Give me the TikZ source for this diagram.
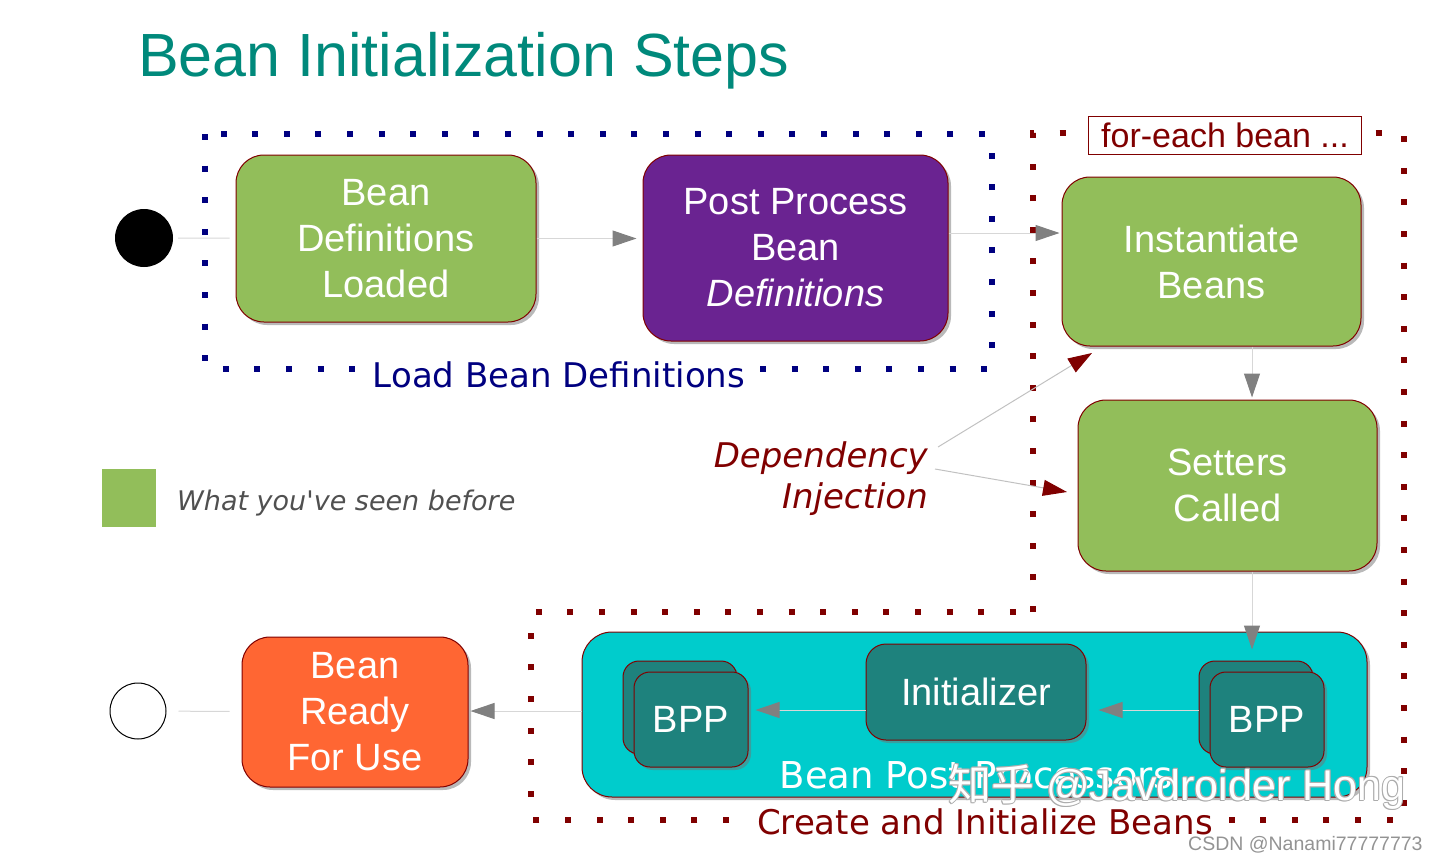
\documentclass[tikz,border=0pt]{standalone}
\usepackage{fontspec}
\setmainfont{Liberation Sans}
\newfontfamily\vfont{DejaVu Sans}
\newfontfamily\cjkf{Noto Sans CJK SC}
\usetikzlibrary{shadows,arrows.meta}
\definecolor{grn}{RGB}{146,190,90}
\definecolor{purp}{RGB}{106,35,145}
\definecolor{navyc}{RGB}{0,0,128}
\definecolor{dred}{RGB}{128,0,0}
\definecolor{titlec}{RGB}{0,137,123}
\definecolor{cyanb}{RGB}{0,204,204}
\definecolor{tealbox}{RGB}{30,130,125}
\definecolor{orng}{RGB}{255,102,51}
\definecolor{tipg}{RGB}{128,128,128}
\definecolor{lineg}{RGB}{215,215,215}
\definecolor{legtxt}{RGB}{80,80,80}
\tikzset{
  x=1pt, y=-1pt,
  box/.style={draw=dred, line width=1pt, rounded corners=28pt, text=white, align=center,
    font=\fontsize{38}{46}\selectfont, inner sep=0pt,
    drop shadow={shadow xshift=3pt, shadow yshift=-3pt, opacity=0.5, fill=black!55}},
  smallbox/.style={box, rounded corners=16pt},
  conn/.style={draw=lineg, line width=1pt, -{Triangle[length=24pt,width=16pt,color=tipg]}},
  plainconn/.style={draw=lineg, line width=1pt},
  diconn/.style={draw=lineg!90!black, line width=1pt, -{Triangle[length=24pt,width=16pt,color=dred]}},
  bluedots/.style={draw=navyc, line width=6pt, dash pattern=on 6pt off 25.6pt},
  reddots/.style={draw=dred, line width=6pt, dash pattern=on 6pt off 25.6pt},
  grouplabel/.style={font=\vfont\fontsize{34}{40}\selectfont, fill=white, inner xsep=10pt, inner ysep=2pt},
  wm/.style={font=\fontsize{43}{48}\selectfont, anchor=base west, inner sep=0pt},
}
\begin{document}
\begin{tikzpicture}
\useasboundingbox (0,0) rectangle (1437,859);

% title
\node[anchor=base west, inner sep=0pt, text=titlec, font=\fontsize{61}{70}\selectfont] (title) at (138,76) {Bean Initialization Steps};

% group borders
\draw[bluedots] (205,134) rectangle (992,369);
\draw[reddots] (1033,612) -- (1033,133) -- (1404,133) -- (1404,820) -- (531,820) -- (531,612) -- cycle;
\node[grouplabel, text=navyc, anchor=base] (loadlbl) at (559,387) {Load Bean Definitions};
\node[grouplabel, text=dred, anchor=base] (createlbl) at (985,834) {Create and Initialize Beans};
\node[draw=dred, line width=1pt, fill=white, text=dred, minimum width=273pt, minimum height=38pt, inner sep=0pt,
  font=\fontsize{34}{40}\selectfont] (foreach) at (1225,135) {for-each bean ...};

% start / end
\node[circle, fill=black, minimum size=58pt, inner sep=0pt] (start) at (144,238) {};
\node[circle, draw=black, line width=1pt, fill=white, minimum size=56pt, inner sep=0pt] (end) at (138,711) {};

% boxes
\node[box, fill=grn, minimum width=300pt, minimum height=167pt] (loaded) at (386,238.5) {Bean\\Definitions\\Loaded};
\node[box, fill=purp, minimum width=305pt, minimum height=186pt] (ppbd) at (795.5,248) {Post Process\\Bean\\\itshape Definitions};
\node[box, fill=grn, minimum width=299pt, minimum height=169pt] (inst) at (1211.5,261.5) {Instantiate\\Beans};
\node[box, fill=grn, minimum width=299pt, minimum height=171pt] (setters) at (1227.5,485.5) {Setters\\Called};
\node[box, fill=cyanb, minimum width=785pt, minimum height=165pt, rounded corners=30pt] (bppgroup) at (974.5,714.5) {};
\node[smallbox, fill=tealbox, minimum width=220pt, minimum height=96pt, rounded corners=20pt] (init) at (976,692) {Initializer};
\node[smallbox, fill=tealbox, minimum width=114pt, minimum height=93pt] (bppLb) at (680,707.5) {};
\node[smallbox, fill=tealbox, minimum width=114pt, minimum height=95pt] (bppLf) at (691,719.5) {BPP};
\node[smallbox, fill=tealbox, minimum width=114pt, minimum height=93pt] (bppRb) at (1256,707.5) {};
\node[smallbox, fill=tealbox, minimum width=114pt, minimum height=95pt] (bppRf) at (1267,719.5) {BPP};
\node[box, fill=orng, minimum width=226pt, minimum height=150pt] (ready) at (355,712) {Bean\\Ready\\For Use};
\node[anchor=base, text=white, inner sep=0pt, font=\vfont\fontsize{37}{42}\selectfont] (bpplbl) at (976,788) {Bean Post Processors};

% legend
\node[fill=grn, minimum width=54pt, minimum height=58pt, inner sep=0pt] (legbox) at (129,498) {};
\node[anchor=base west, inner sep=0pt, text=legtxt, font=\vfont\itshape\fontsize{27}{32}\selectfont] (legtext) at (177,510) {What you've seen before};

% dependency injection
\node[anchor=base east, inner sep=0pt, text=dred, align=right, font=\vfont\itshape\fontsize{34}{41}\selectfont] (di1) at (928,467) {Dependency};
\node[anchor=base east, inner sep=0pt, text=dred, font=\vfont\itshape\fontsize{34}{41}\selectfont] (di2) at (928,508) {Injection};
\coordinate (diA) at (938,447);
\coordinate (diB) at (935,469);
\coordinate (diAend) at (1092,353);
\coordinate (diBend) at (1067,492);
\draw[diconn] (diA) -- (diAend);
\draw[diconn] (diB) -- (diBend);

% connectors
\draw[plainconn, shorten <=5pt, shorten >=6pt] (start) -- (loaded);
\draw[conn, shorten >=6pt] (loaded) -- (ppbd.west |- loaded);
\draw[conn, shorten >=2pt] ([yshift=15pt]ppbd.east) -- ([yshift=28.5pt]inst.west);
\draw[conn, shorten >=2pt] ([xshift=40.5pt]inst.south) -- ([xshift=24.5pt]setters.north);
\draw[conn, shorten >=11pt] ([xshift=24.5pt]setters.south) -- ([xshift=-4pt]bppRb.north);
\draw[conn, shorten >=12pt] ([yshift=-2.5pt]bppRb.west) -- ([yshift=-18pt]init.east);
\draw[conn, shorten >=7pt] ([yshift=-18pt]init.west) -- ([yshift=9.5pt]bppLf.east);
\draw[conn, shorten >=2pt] ([yshift=3.5pt]bppgroup.west) -- ([yshift=1pt]ready.east);
\draw[plainconn, shorten <=12pt, shorten >=12pt] (end) -- (ready);

% watermarks
\foreach \dx/\dy in {-1/0,1/0,0/-1,0/1,1/1,-1/-1}{
  \node[wm, text=gray!65, xshift=\dx pt, yshift=\dy pt] (wms) at (948,800) {{\cjkf 知乎} @Javdroider Hong};
}
\node[wm, text=white] (wmark) at (948,800) {{\cjkf 知乎} @Javdroider Hong};
\node[anchor=base west, inner sep=0pt, text=gray!85, font=\fontsize{19.5}{22}\selectfont] (csdn) at (1188,850) {CSDN @Nanami77777773};
\end{tikzpicture}
\end{document}
